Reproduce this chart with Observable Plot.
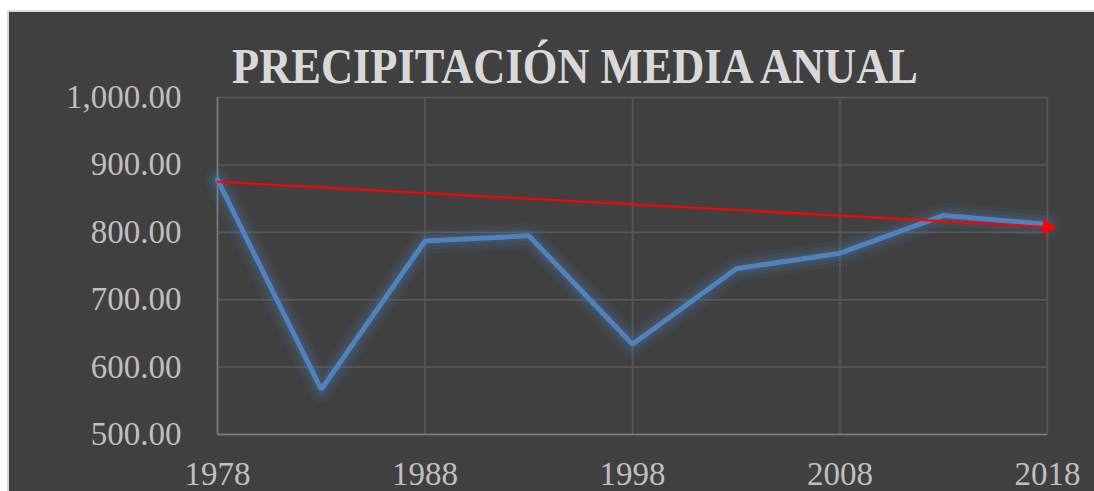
<!DOCTYPE html>
<html>
<head>
<meta charset="utf-8">
<script src="https://cdn.jsdelivr.net/npm/d3@7"></script>
<script src="https://cdn.jsdelivr.net/npm/@observablehq/plot@0.6"></script>
<style>
  html, body { margin: 0; padding: 0; background: #ffffff; }
  #page { position: relative; width: 1094px; height: 491px; overflow: hidden; }
  #panel { position: absolute; left: 7px; top: 10px; width: 1090px; height: 484px;
           background: #404040; border-left: 2px solid #d9d9d9; border-top: 2px solid #d9d9d9; box-sizing: border-box; }
  #chart { position: absolute; left: 0; top: 0; }
  #title { position: absolute; left: 0; top: 0; }
</style>
</head>
<body>
<div id="page">
  <div id="panel"></div>
  <div id="chart"></div>
  <svg id="title" width="1094" height="100">
    <text x="232" y="83" textLength="686" lengthAdjust="spacingAndGlyphs"
          font-family="'Liberation Serif', serif" font-weight="bold" font-size="51" fill="#d9d9d9">PRECIPITACIÓN MEDIA ANUAL</text>
  </svg>
</div>
<script>
const years = [1978, 1983, 1988, 1993, 1998, 2003, 2008, 2013, 2018];
const precipitation = [878, 567, 787, 795, 634, 746, 769, 825, 812];
const trendYears = [1978, 2018];
const trendValues = [875, 808];
const xTicks = [1978, 1988, 1998, 2008, 2018];
const yTicks = [500, 600, 700, 800, 900, 1000];

const data = years.map((year, i) => ({year, value: precipitation[i]}));
const trend = trendYears.map((year, i) => ({year, value: trendValues[i]}));

const fmt = d3.format(",.2f");

const plot = Plot.plot({
  width: 1094,
  height: 491,
  marginLeft: 217,
  marginRight: 47,
  marginTop: 97,
  marginBottom: 57,
  style: {background: "transparent", color: "#bfbfbf", fontFamily: "'Liberation Serif', serif", fontSize: "33px"},
  x: {domain: [1978, 2018], label: null},
  y: {domain: [500, 1000], label: null},
  marks: [
    Plot.gridY(yTicks, {stroke: "#595959", strokeOpacity: 1, strokeWidth: 1.5}),
    Plot.gridX(xTicks, {stroke: "#595959", strokeOpacity: 1, strokeWidth: 1.5}),
    Plot.ruleX([1978], {stroke: "#7f7f7f", strokeWidth: 1.5}),
    Plot.ruleY([500], {stroke: "#7f7f7f", strokeWidth: 1.5}),
    Plot.axisY(yTicks, {tickSize: 0, tickPadding: 36, tickFormat: fmt, fontSize: 33, label: null}),
    Plot.axisX(xTicks, {tickSize: 0, tickPadding: 27, tickFormat: d => String(d), fontSize: 33, label: null}),
    Plot.line(data, {x: "year", y: "value", stroke: "#4f81bd", strokeWidth: 26, strokeOpacity: 0.07, strokeLinejoin: "round"}),
    Plot.line(data, {x: "year", y: "value", stroke: "#4f81bd", strokeWidth: 18, strokeOpacity: 0.1, strokeLinejoin: "round"}),
    Plot.line(data, {x: "year", y: "value", stroke: "#4f81bd", strokeWidth: 11, strokeOpacity: 0.14, strokeLinejoin: "round"}),
    Plot.line(data, {x: "year", y: "value", stroke: "#4f81bd", strokeWidth: 5, strokeLinejoin: "miter"}),
    Plot.line(trend, {x: "year", y: "value", stroke: "#ff0000", strokeWidth: 2}),
    Plot.dot(trend.slice(-1), {x: "year", y: "value", symbol: "triangle", rotate: 93, r: 6, fill: "#ff0000", stroke: "none"})
  ]
});
document.getElementById("chart").appendChild(plot);
</script>
</body>
</html>
